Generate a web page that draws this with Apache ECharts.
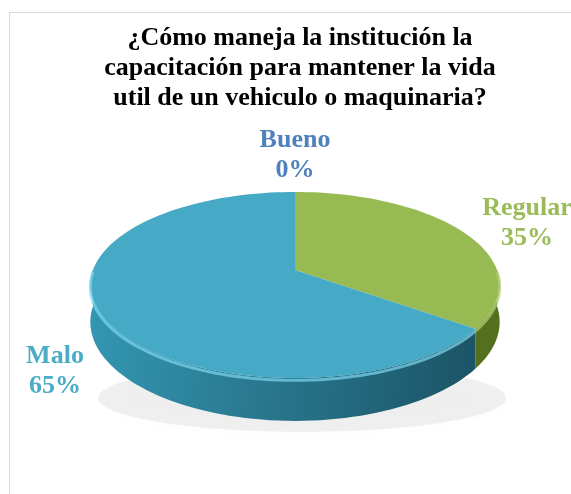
<!DOCTYPE html>
<html>
<head>
<meta charset="utf-8">
<script src="https://cdn.jsdelivr.net/npm/echarts@6/dist/echarts.min.js"></script>
<style>
  html, body { margin: 0; padding: 0; background: #fff; }
  #pie { width: 571px; height: 494px; }
</style>
</head>
<body>
<div id="pie"></div>
<script>
// datos de la encuesta
const categorias = ['Bueno', 'Regular', 'Malo'];
const valores = [0, 35, 65];
const etiquetas = ['0%', '35%', '65%'];

const colorTapa = ['#4F81BD', '#98BA53', '#46A9C5'];
const colorPared = [
  ['#3F6A9E', '#2B4D78'],
  ['#7C9C3C', '#53701F'],
  ['#3497B3', '#1C5567']
];
const colorTexto = ['#4F81BD', '#9BBB59', '#4BACC6'];

// geometria del pastel 3D (perspectiva simple)
const CX = 295, CY = 270, A = 202, B = 90.6, C = 0.161, DROP = 36;
const total = valores.reduce((s, v) => s + v, 0);

function proj(deg, drop) {
  const t = deg * Math.PI / 180;
  const u = Math.cos(t), v = Math.sin(t);
  const s = 1 / (1 + C * v);
  return [CX + A * u * s, CY - B * v * s + (drop || 0) * s];
}

function arco(a0, a1, drop) {
  const pts = [];
  const n = Math.max(2, Math.ceil(Math.abs(a0 - a1) / 2));
  for (let i = 0; i <= n; i++) {
    pts.push(proj(a0 + (a1 - a0) * i / n, drop));
  }
  return pts;
}

function angulos(idx) {
  let acum = 0;
  for (let i = 0; i < idx; i++) acum += valores[i];
  const a0 = 90 - 360 * acum / total;
  const a1 = a0 - 360 * valores[idx] / total;
  return [a0, a1];
}

const datos = categorias.map((c, i) => ({ name: c, value: valores[i] }));

const chart = echarts.init(document.getElementById('pie'));
chart.setOption({
  animation: false,
  graphic: [
    {
      type: 'rect', z: 0,
      shape: { x: 9.5, y: 12.5, width: 620, height: 520 },
      style: { fill: 'none', stroke: '#d9d9d9', lineWidth: 1 }
    },
    {
      type: 'ellipse', z: 1,
      shape: { cx: 302, cy: 398, rx: 204, ry: 34 },
      style: { fill: 'rgba(0,0,0,0.06)', shadowBlur: 14, shadowColor: 'rgba(0,0,0,0.2)', shadowOffsetY: 2 }
    },
    {
      type: 'text', z: 10, x: 300, y: 23,
      style: {
        text: '¿Cómo maneja la institución la\ncapacitación para mantener la vida\nutil de un vehiculo o maquinaria?',
        fontFamily: 'Liberation Serif', fontWeight: 'bold', fontSize: 26,
        lineHeight: 30, fill: '#000', align: 'center'
      }
    },
    ...categorias.map((c, i) => ({
      type: 'text', z: 10,
      x: [295, 527, 55][i], y: [125, 193, 341][i],
      style: {
        text: c + '\n' + etiquetas[i],
        fontFamily: 'Liberation Serif', fontWeight: 'bold', fontSize: 26,
        lineHeight: 30, fill: colorTexto[i], align: 'center'
      }
    }))
  ],
  series: [
    {
      // paredes frontales
      type: 'custom', coordinateSystem: 'none', z: 2,
      data: datos,
      renderItem: function (params, api) {
        const i = params.dataIndex;
        if (api.value(0) <= 0) return;
        const [a0, a1] = angulos(i);
        const hi = Math.min(a0, 0), lo = Math.max(a1, -180);
        if (hi <= lo) return;
        const top = arco(hi, lo, 0);
        const bot = arco(lo, hi, DROP);
        return {
          type: 'polygon',
          shape: { points: top.concat(bot) },
          style: {
            fill: {
              type: 'linear', x: 0, y: 0, x2: 1, y2: 0.3,
              colorStops: [
                { offset: 0, color: colorPared[i][0] },
                { offset: 1, color: colorPared[i][1] }
              ]
            }
          }
        };
      }
    },
    {
      // tapas
      type: 'custom', coordinateSystem: 'none', z: 3,
      data: datos,
      renderItem: function (params, api) {
        const i = params.dataIndex;
        if (api.value(0) <= 0) return;
        const [a0, a1] = angulos(i);
        const pts = [[CX, CY]].concat(arco(a0, a1, 0));
        const children = [{
          type: 'polygon',
          shape: { points: pts },
          style: { fill: colorTapa[i] }
        }];
        // brillo del borde frontal
        const hi = Math.min(a0, 0), lo = Math.max(a1, -180);
        if (hi > lo) {
          children.push({
            type: 'polyline',
            shape: { points: arco(hi, lo, 2) },
            style: {
              fill: 'none', lineWidth: 3, opacity: 0.7,
              stroke: i === 2 ? '#7FD7EF' : '#B3CF78'
            }
          });
        }
        return { type: 'group', children: children };
      }
    }
  ]
});
</script>
</body>
</html>
